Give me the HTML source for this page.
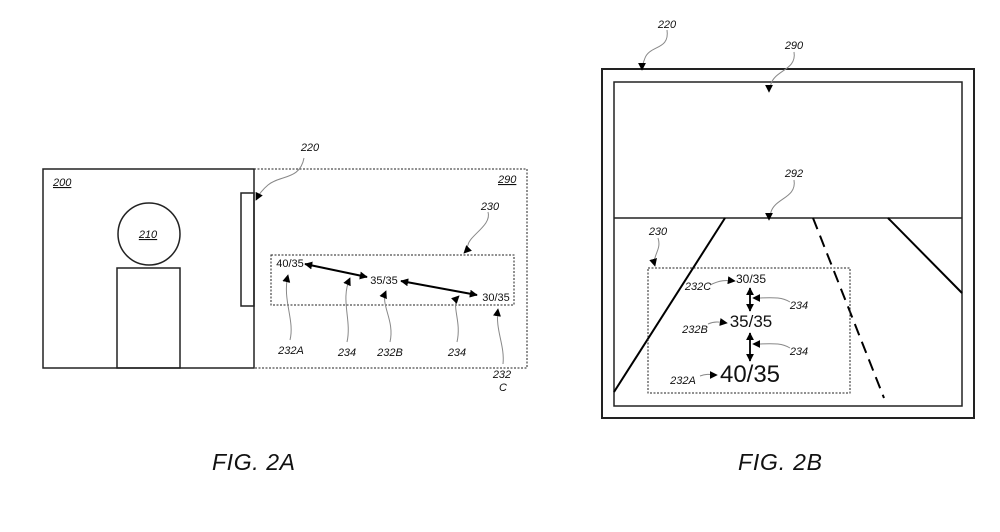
<!DOCTYPE html>
<html><head><meta charset="utf-8"><style>
html,body{margin:0;padding:0;background:#fff;}
svg{display:block;}
text{font-family:"Liberation Sans",sans-serif;fill:#111;}
.it{font-style:italic;font-size:11px;}
</style></head><body>
<svg width="1000" height="532" viewBox="0 0 1000 532" xmlns="http://www.w3.org/2000/svg">
<defs>
<marker id="ah" viewBox="0 0 10 10" refX="9" refY="5" markerWidth="8" markerHeight="8" markerUnits="userSpaceOnUse" orient="auto-start-reverse"><path d="M0,0 L10,5 L0,10 z" fill="#000"/></marker>
</defs>
<g fill="none" stroke="#222">
<!-- FIG 2A -->
<rect x="43" y="169" width="211" height="199" stroke-width="1.5"/>
<rect x="254" y="169" width="273" height="199" stroke-dasharray="2,1.5" stroke-width="1"/>
<rect x="241" y="193" width="13" height="113" stroke-width="1.5"/>
<circle cx="149" cy="234" r="31" stroke-width="1.5"/>
<rect x="117" y="268" width="63" height="100" stroke-width="1.5"/>
<rect x="271" y="255" width="243" height="50" stroke-dasharray="2,1.5" stroke-width="1"/>
<line x1="305" y1="264" x2="367" y2="277" stroke="#000" stroke-width="2" marker-start="url(#ah)" marker-end="url(#ah)"/>
<line x1="401" y1="281" x2="477" y2="295" stroke="#000" stroke-width="2" marker-start="url(#ah)" marker-end="url(#ah)"/>
<g stroke="#888" stroke-width="1">
<path d="M304,158 C300,180 280,175 268,185 C262,190 258,196 256,200" marker-end="url(#ah)"/>
<path d="M488,212 C492,225 470,235 468,245 C466,250 465,252 464,253" marker-end="url(#ah)"/>
<path d="M290,340 C295,320 282,300 288,275" marker-end="url(#ah)"/>
<path d="M347,342 C352,320 340,300 350,278" marker-end="url(#ah)"/>
<path d="M390,342 C395,320 380,305 386,291" marker-end="url(#ah)"/>
<path d="M457,342 C462,320 450,305 459,296" marker-end="url(#ah)"/>
<path d="M503,364 C505,345 495,330 498,309" marker-end="url(#ah)"/>
</g>
<!-- FIG 2B -->
<rect x="602" y="69" width="372" height="349" stroke-width="2"/>
<rect x="614" y="82" width="348" height="324" stroke-width="1.5"/>
<line x1="614" y1="218" x2="962" y2="218" stroke-width="1.5"/>
<line x1="725" y1="218" x2="614" y2="392" stroke="#000" stroke-width="2"/>
<line x1="813" y1="218" x2="884" y2="398" stroke="#000" stroke-width="2" stroke-dasharray="12,7"/>
<line x1="888" y1="218" x2="962" y2="293" stroke="#000" stroke-width="2"/>
<rect x="648" y="268" width="202" height="125" stroke-dasharray="2,1.5" stroke-width="1"/>
<line x1="750" y1="288" x2="750" y2="311" stroke="#000" stroke-width="1.8" marker-start="url(#ah)" marker-end="url(#ah)"/>
<line x1="750" y1="333" x2="750" y2="361" stroke="#000" stroke-width="1.8" marker-start="url(#ah)" marker-end="url(#ah)"/>
<g stroke="#888" stroke-width="1">
<path d="M667,30 C670,50 650,45 645,58 C643,63 642,67 642,70" marker-end="url(#ah)"/>
<path d="M794,52 C797,70 775,70 771,84 C770,88 769,90 769,92" marker-end="url(#ah)"/>
<path d="M794,180 C797,198 775,198 771,212 C770,216 769,218 769,220" marker-end="url(#ah)"/>
<path d="M658,238 C662,250 652,255 655,266" marker-end="url(#ah)"/>
<path d="M710,285 C720,280 726,280 735,281" marker-end="url(#ah)"/>
<path d="M790,302 C780,296 770,298 753,298" marker-end="url(#ah)"/>
<path d="M708,324 C715,321 720,322 727,323" marker-end="url(#ah)"/>
<path d="M790,348 C780,342 770,344 753,344" marker-end="url(#ah)"/>
<path d="M700,376 C708,373 712,375 717,375" marker-end="url(#ah)"/>
</g>
</g>
<!-- labels 2A -->
<text x="53" y="186" class="it" text-decoration="underline">200</text>
<text x="148" y="238" class="it" text-anchor="middle" text-decoration="underline">210</text>
<text x="498" y="183" class="it" text-decoration="underline">290</text>
<text x="310" y="151" class="it" text-anchor="middle">220</text>
<text x="490" y="210" class="it" text-anchor="middle">230</text>
<text x="290" y="267" font-size="11" text-anchor="middle">40/35</text>
<text x="384" y="284" font-size="11" text-anchor="middle">35/35</text>
<text x="496" y="301" font-size="11" text-anchor="middle">30/35</text>
<text x="291" y="354" class="it" text-anchor="middle">232A</text>
<text x="347" y="356" class="it" text-anchor="middle">234</text>
<text x="390" y="356" class="it" text-anchor="middle">232B</text>
<text x="457" y="356" class="it" text-anchor="middle">234</text>
<text x="502" y="378" class="it" text-anchor="middle">232</text>
<text x="503" y="391" class="it" text-anchor="middle">C</text>
<!-- labels 2B -->
<text x="667" y="28" class="it" text-anchor="middle">220</text>
<text x="794" y="49" class="it" text-anchor="middle">290</text>
<text x="794" y="177" class="it" text-anchor="middle">292</text>
<text x="658" y="235" class="it" text-anchor="middle">230</text>
<text x="751" y="283" font-size="12" text-anchor="middle">30/35</text>
<text x="698" y="290" class="it" text-anchor="middle">232C</text>
<text x="799" y="309" class="it" text-anchor="middle">234</text>
<text x="751" y="327" font-size="17" text-anchor="middle">35/35</text>
<text x="695" y="333" class="it" text-anchor="middle">232B</text>
<text x="799" y="355" class="it" text-anchor="middle">234</text>
<text x="750" y="382" font-size="24" text-anchor="middle">40/35</text>
<text x="683" y="384" class="it" text-anchor="middle">232A</text>
<!-- captions -->
<text x="212" y="470" font-size="23" font-style="italic" textLength="83">FIG. 2A</text>
<text x="738" y="470" font-size="23" font-style="italic" textLength="84">FIG. 2B</text>
</svg>
</body></html>
